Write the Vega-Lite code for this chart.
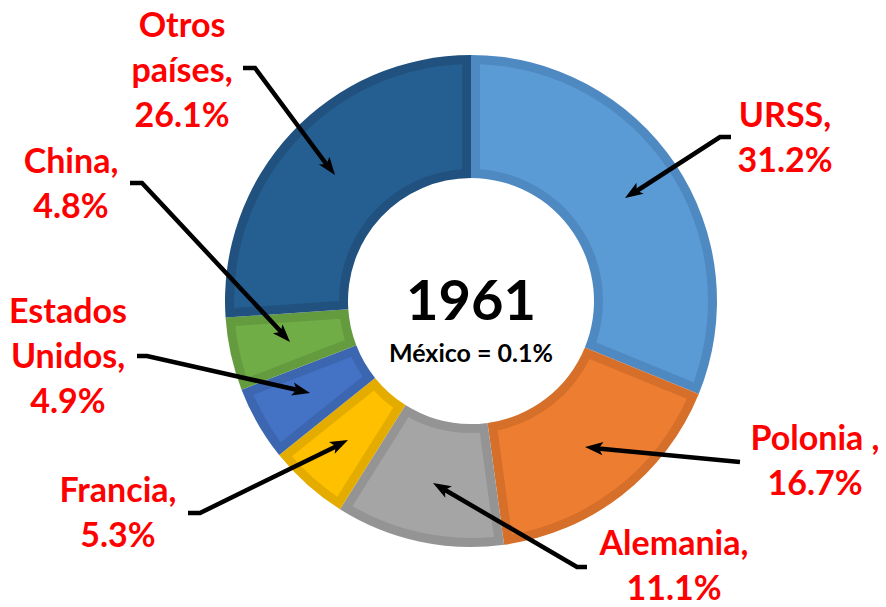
{
  "$schema": "https://vega.github.io/schema/vega-lite/v6.json",
  "width": 830,
  "height": 602,
  "autosize": {"type": "none"},
  "padding": {"left": 56, "top": 0, "right": 0, "bottom": 5},
  "background": "white",
  "config": {"view": {"stroke": null}},
  "datasets": {
    "slices": [
      {"idx": 1, "name": "URSS", "pct": 31.2},
      {"idx": 2, "name": "Polonia", "pct": 16.7},
      {"idx": 3, "name": "Alemania", "pct": 11.1},
      {"idx": 4, "name": "Francia", "pct": 5.3},
      {"idx": 5, "name": "Estados Unidos", "pct": 4.9},
      {"idx": 6, "name": "China", "pct": 4.8},
      {"idx": 7, "name": "Otros países", "pct": 26.1}
    ],
    "labels": [
      {"text": "Otros\npaíses,\n26.1%", "x": 182, "y": 37},
      {"text": "China,\n4.8%", "x": 71, "y": 173},
      {"text": "Estados\nUnidos,\n4.9%", "x": 68, "y": 323},
      {"text": "Francia,\n5.3%", "x": 118, "y": 502},
      {"text": "Alemania,\n11.1%", "x": 674, "y": 555},
      {"text": "Polonia ,\n16.7%", "x": 815, "y": 450},
      {"text": "URSS,\n31.2%", "x": 785, "y": 127}
    ],
    "arrows": [
      {"id": "Otros", "i": 1, "x": 243, "y": 68},
      {"id": "Otros", "i": 2, "x": 255, "y": 68},
      {"id": "Otros", "i": 3, "x": 330, "y": 169},
      {"id": "China", "i": 1, "x": 130, "y": 183},
      {"id": "China", "i": 2, "x": 142, "y": 183},
      {"id": "China", "i": 3, "x": 285, "y": 336},
      {"id": "EU", "i": 1, "x": 137, "y": 356},
      {"id": "EU", "i": 2, "x": 147, "y": 356},
      {"id": "EU", "i": 3, "x": 302, "y": 391},
      {"id": "Francia", "i": 1, "x": 188, "y": 513},
      {"id": "Francia", "i": 2, "x": 200, "y": 513},
      {"id": "Francia", "i": 3, "x": 341, "y": 444},
      {"id": "Alemania", "i": 1, "x": 587, "y": 567},
      {"id": "Alemania", "i": 2, "x": 577, "y": 567},
      {"id": "Alemania", "i": 3, "x": 440, "y": 487},
      {"id": "Polonia", "i": 1, "x": 740, "y": 462},
      {"id": "Polonia", "i": 2, "x": 593, "y": 448},
      {"id": "URSS", "i": 1, "x": 731, "y": 137},
      {"id": "URSS", "i": 2, "x": 720, "y": 137},
      {"id": "URSS", "i": 3, "x": 632, "y": 194}
    ],
    "heads": [
      {"id": "Otros", "x": 335, "y": 175, "angle": 143},
      {"id": "China", "x": 290, "y": 342, "angle": 137},
      {"id": "EU", "x": 310, "y": 393, "angle": 103},
      {"id": "Francia", "x": 348, "y": 440, "angle": 64},
      {"id": "Alemania", "x": 433, "y": 483, "angle": 300},
      {"id": "Polonia", "x": 585, "y": 447, "angle": 275},
      {"id": "URSS", "x": 625, "y": 198, "angle": 237}
    ],
    "center": [
      {"text": "1961", "x": 471, "y": 320, "kind": "year"},
      {"text": "México = 0.1%", "x": 471, "y": 362, "kind": "note"}
    ]
  },
  "layer": [
    {
      "data": {"name": "slices"},
      "mark": {"type": "arc", "radius": 246, "radius2": 123},
      "encoding": {
        "theta": {"field": "pct", "type": "quantitative", "stack": true},
        "order": {"field": "idx", "type": "quantitative"},
        "color": {
          "field": "name", "type": "nominal", "legend": null,
          "scale": {
            "domain": ["URSS", "Polonia", "Alemania", "Francia", "Estados Unidos", "China", "Otros países"],
            "range": ["#4F89C2", "#D56F2A", "#949494", "#E5AC00", "#3C66B0", "#649B3F", "#21527F"]
          }
        }
      }
    },
    {
      "data": {"name": "slices"},
      "mark": {"type": "arc", "radius": 237, "radius2": 132, "padAngle": 0.066},
      "encoding": {
        "theta": {"field": "pct", "type": "quantitative", "stack": true},
        "order": {"field": "idx", "type": "quantitative"},
        "fill": {
          "field": "name", "type": "nominal", "legend": null,
          "scale": {
            "domain": ["URSS", "Polonia", "Alemania", "Francia", "Estados Unidos", "China", "Otros países"],
            "range": ["#5B9BD5", "#ED7D31", "#A5A5A5", "#FFC000", "#4472C4", "#70AD47", "#255E91"]
          }
        }
      }
    },
    {
      "data": {"name": "arrows"},
      "mark": {"type": "line", "color": "black", "strokeWidth": 4.5, "strokeCap": "butt", "strokeJoin": "miter"},
      "encoding": {
        "x": {"field": "x", "type": "quantitative", "scale": {"domain": [56, 886], "nice": false, "zero": false}, "axis": null},
        "y": {"field": "y", "type": "quantitative", "scale": {"domain": [0, 602], "nice": false, "zero": false, "reverse": true}, "axis": null},
        "detail": {"field": "id"},
        "order": {"field": "i", "type": "quantitative"}
      }
    },
    {
      "data": {"name": "heads"},
      "mark": {"type": "point", "filled": true, "color": "black", "opacity": 1, "size": 576, "shape": "M0,0 L0.55,1.5 L0,1.15 L-0.55,1.5 Z"},
      "encoding": {
        "x": {"field": "x", "type": "quantitative"},
        "y": {"field": "y", "type": "quantitative"},
        "angle": {"field": "angle", "type": "quantitative", "scale": null}
      }
    },
    {
      "data": {"name": "labels"},
      "mark": {"type": "text", "color": "#FF0000", "font": "Lato", "fontWeight": "bold", "fontSize": 34, "align": "center", "baseline": "alphabetic", "lineBreak": "\n", "lineHeight": 45},
      "encoding": {
        "x": {"field": "x", "type": "quantitative"},
        "y": {"field": "y", "type": "quantitative"},
        "text": {"field": "text"}
      }
    },
    {
      "data": {"name": "center"},
      "mark": {"type": "text", "color": "black", "font": "Lato", "fontWeight": "bold", "align": "center", "baseline": "alphabetic"},
      "encoding": {
        "x": {"field": "x", "type": "quantitative"},
        "y": {"field": "y", "type": "quantitative"},
        "text": {"field": "text"},
        "size": {"field": "kind", "type": "nominal", "legend": null, "scale": {"domain": ["year", "note"], "range": [56, 25]}}
      }
    }
  ],
  "resolve": {"scale": {"color": "independent", "fill": "independent"}}
}
